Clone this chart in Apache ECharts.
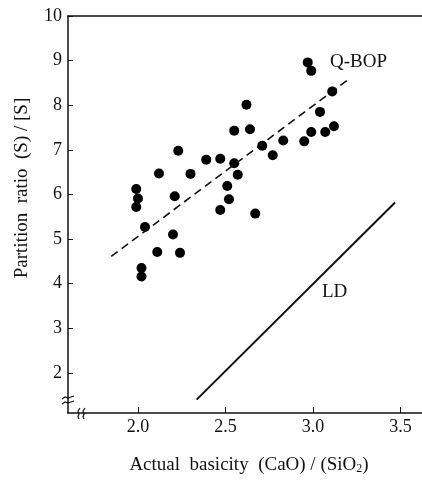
<!DOCTYPE html>
<html>
<head>
<meta charset="utf-8">
<script src="https://cdn.jsdelivr.net/npm/echarts@6/dist/echarts.min.js"></script>
<style>
  html, body { margin: 0; padding: 0; background: #fff; }
  #chart { width: 422px; height: 481px; }
</style>
</head>
<body>
<div id="chart"></div>
<script>
// measured points, basicity (CaO)/(SiO2) vs partition ratio (S)/[S]
var basicity = [1.99, 2.00, 1.99, 2.04, 2.12, 2.21, 2.23, 2.20, 2.30, 2.39,
  2.47, 2.47, 2.51, 2.52, 2.55, 2.55, 2.57, 2.62, 2.64, 2.67,
  2.71, 2.77, 2.83, 2.95, 2.97, 2.99, 2.99, 3.04, 3.07, 3.11,
  3.12, 2.11, 2.24, 2.02, 2.02];
var partition = [6.12, 5.91, 5.72, 5.27, 6.47, 5.96, 6.98, 5.10, 6.46, 6.78,
  6.80, 5.65, 6.19, 5.89, 6.70, 7.43, 6.44, 8.01, 7.46, 5.57,
  7.09, 6.88, 7.21, 7.19, 8.96, 8.77, 7.40, 7.85, 7.40, 8.31,
  7.53, 4.71, 4.69, 4.35, 4.16];

// trend lines
var qbopX = [1.847, 3.199];
var qbopY = [4.61, 8.57];
var ldX = [2.335, 3.469];
var ldY = [1.40, 5.82];

var xTicks = [2.0, 2.5, 3.0, 3.5];
var yTicks = [2, 3, 4, 5, 6, 7, 8, 9, 10];

var ink = '#111';
var serif = '"Liberation Serif", "DejaVu Serif", serif';

function zip(a, b) {
  return a.map(function (v, i) { return [v, b[i]]; });
}

var myChart = echarts.init(document.getElementById('chart'));

var option = {
  backgroundColor: '#fff',
  animation: false,
  grid: { left: 68, right: 0, top: 16, bottom: 68 },
  xAxis: [{
    type: 'value',
    min: 1.6,
    max: 3.623,
    splitLine: { show: false },
    axisLine: { lineStyle: { color: ink, width: 1.5 } },
    axisTick: { inside: true, length: 6, customValues: xTicks, lineStyle: { color: ink } },
    axisLabel: {
      customValues: xTicks,
      margin: 5,
      color: ink,
      fontFamily: serif,
      fontSize: 18,
      formatter: function (v) { return v.toFixed(1); }
    }
  }, {
    type: 'value',
    position: 'top',
    min: 1.6,
    max: 3.623,
    splitLine: { show: false },
    axisLine: { show: true, lineStyle: { color: ink, width: 1.5 } },
    axisTick: { show: false },
    axisLabel: { show: false }
  }],
  yAxis: {
    type: 'value',
    min: 1.1,
    max: 10,
    splitLine: { show: false },
    axisLine: { lineStyle: { color: ink, width: 1.5 } },
    axisTick: { inside: true, length: 5, customValues: yTicks, lineStyle: { color: ink } },
    axisLabel: {
      customValues: yTicks,
      margin: 6,
      color: ink,
      fontFamily: serif,
      fontSize: 18
    }
  },
  series: [{
    name: 'data',
    type: 'scatter',
    symbol: 'circle',
    symbolSize: 10,
    itemStyle: { color: '#000', opacity: 1 },
    data: zip(basicity, partition)
  }, {
    name: 'Q-BOP',
    type: 'line',
    showSymbol: false,
    lineStyle: { color: ink, width: 1.6, type: [8, 5] },
    data: zip(qbopX, qbopY)
  }, {
    name: 'LD',
    type: 'line',
    showSymbol: false,
    lineStyle: { color: ink, width: 2 },
    data: zip(ldX, ldY)
  }],
  graphic: [
    // series labels
    { type: 'text', x: 330, y: 62, style: { text: 'Q-BOP', font: '19px ' + serif, fill: ink, textVerticalAlign: 'middle' } },
    { type: 'text', x: 322, y: 292, style: { text: 'LD', font: '19px ' + serif, fill: ink, textVerticalAlign: 'middle' } },
    // axis names
    { type: 'text', x: 22, y: 188, rotation: Math.PI / 2,
      style: { text: 'Partition  ratio  (S) / [S]', font: '19px ' + serif, fill: ink, textAlign: 'center', textVerticalAlign: 'middle' } },
    { type: 'text', x: 249, y: 465,
      style: {
        text: '{a|Actual  basicity  (CaO) / (SiO}{s|2}{a|)}',
        textAlign: 'center', textVerticalAlign: 'middle',
        rich: {
          a: { font: '19px ' + serif, fill: ink },
          s: { font: '12px ' + serif, fill: ink, padding: [8, 0, 0, 0] }
        }
      } },
    // axis break on y
    { type: 'rect', shape: { x: 64, y: 398, width: 8, height: 5 }, style: { fill: '#fff' } },
    { type: 'polyline', shape: { points: [[62, 399], [65, 397], [68, 398], [71, 397], [74, 396]] }, style: { stroke: ink, lineWidth: 1.2, fill: null } },
    { type: 'polyline', shape: { points: [[62, 404], [65, 402], [68, 403], [71, 402], [74, 401]] }, style: { stroke: ink, lineWidth: 1.2, fill: null } },
    // axis break on x
    { type: 'rect', shape: { x: 79, y: 409, width: 6, height: 8 }, style: { fill: '#fff' } },
    { type: 'polyline', shape: { points: [[80, 408], [78, 411], [79, 414], [78, 417], [79, 419]] }, style: { stroke: ink, lineWidth: 1.2, fill: null } },
    { type: 'polyline', shape: { points: [[85, 408], [83, 411], [84, 414], [83, 417], [84, 419]] }, style: { stroke: ink, lineWidth: 1.2, fill: null } }
  ]
};

myChart.setOption(option);
</script>
</body>
</html>
